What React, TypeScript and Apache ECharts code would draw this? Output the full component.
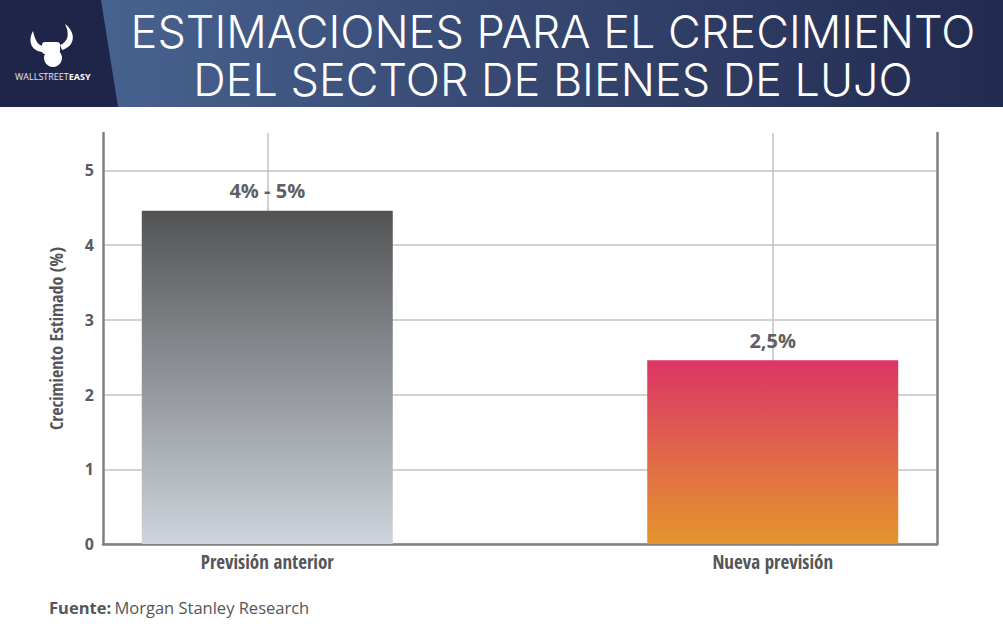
import { useEffect, useRef } from "react";
import * as echarts from "echarts";

// chart data
const categories = ["Previsión anterior", "Nueva previsión"];
const positions = [0, 1];
const values = [4.46, 2.46];
const valueLabels = ["4% - 5%", "2,5%"];
const yTicks = [0, 1, 2, 3, 4, 5];

const titleLines = ["ESTIMACIONES PARA EL CRECIMIENTO", "DEL SECTOR DE BIENES DE LUJO"];
const source = "Morgan Stanley Research";

const barGradients = [
  ["#525355", "#cdd4db"],
  ["#dc3566", "#e4962d"],
];

// rough bull logo shapes
echarts.graphic.registerShape(
  "hornL",
  echarts.graphic.extendPath(
    "M33 31 C27 42 32 52 44 52 L44 46 C38 46 35 40 33 31 Z",
    {}
  )
);
echarts.graphic.registerShape(
  "hornR",
  echarts.graphic.extendPath(
    "M65 24 C76 32 76 46 62 50 L60 45 C68 42 70 34 65 24 Z",
    {}
  )
);

// "Condensed" in the family name switches on font-stretch via the css below
const condensed = "'Open Sans Condensed', 'Open Sans', sans-serif";
const sans = "'Open Sans', 'Noto Sans', sans-serif";

export default function App() {
  const chartRef = useRef<HTMLDivElement>(null);

  useEffect(() => {
    document.body.style.margin = "0";
    const css = document.createElement("style");
    css.textContent = 'text[style*="Condensed"] { font-stretch: condensed !important; }';
    document.head.appendChild(css);
    if (!chartRef.current) return;
    const chart = echarts.init(chartRef.current, null, { renderer: "svg" });

    const option: echarts.EChartsOption = {
      animation: false,
      backgroundColor: "#ffffff",
      grid: { left: 103, right: 66, top: 133, bottom: 99 },
      xAxis: {
        type: "value",
        min: -0.325,
        max: 1.325,
        axisLine: { show: true, onZero: false, lineStyle: { color: "#7f7f7f", width: 2.5 } },
        axisTick: { show: false, customValues: positions },
        axisLabel: {
          customValues: positions,
          formatter: (v: number) => categories[Math.round(v)] ?? "",
          color: "#555659",
          fontFamily: condensed,
          fontWeight: "bold",
          fontSize: 19,
          margin: 8,
        },
        splitLine: { show: true, lineStyle: { color: "#c3c3c3", width: 1.5 } },
      },
      yAxis: [
        {
          type: "value",
          min: 0,
          max: 5.5,
          name: "Crecimiento Estimado (%)",
          nameLocation: "middle",
          nameGap: 38,
          nameTextStyle: {
            color: "#555659",
            fontFamily: condensed,
            fontWeight: "bold",
            fontSize: 18,
          },
          axisLine: { show: true, onZero: false, lineStyle: { color: "#7f7f7f", width: 2.5 } },
          axisTick: { show: false, customValues: yTicks },
          axisLabel: {
            customValues: yTicks,
            color: "#5a5b5e",
            fontFamily: sans,
            fontWeight: "bold",
            fontSize: 16,
            margin: 9,
          },
          splitLine: { show: true, lineStyle: { color: "#c3c3c3", width: 1.5 } },
        },
        {
          type: "value",
          min: 0,
          max: 5.5,
          position: "right",
          axisLine: { show: true, onZero: false, lineStyle: { color: "#7f7f7f", width: 2.5 } },
          axisTick: { show: false },
          axisLabel: { show: false },
          splitLine: { show: false },
        },
      ],
      series: [
        {
          type: "bar",
          barWidth: 251,
          data: positions.map((p, i) => ({
            value: [p, values[i]],
            itemStyle: {
              color: new echarts.graphic.LinearGradient(0, 0, 0, 1, [
                { offset: 0, color: barGradients[i][0] },
                { offset: 1, color: barGradients[i][1] },
              ]),
            },
          })),
          label: {
            show: true,
            position: "top",
            distance: 10,
            formatter: (p: any) => valueLabels[p.dataIndex],
            color: "#5f6063",
            fontFamily: sans,
            fontWeight: "bold",
            fontSize: 20,
          },
        },
      ],
      graphic: [
        {
          type: "rect",
          shape: { x: 0, y: 0, width: 1003, height: 107 },
          style: {
            fill: new echarts.graphic.LinearGradient(0, 0, 1, 0, [
              { offset: 0, color: "#4c6896" },
              { offset: 1, color: "#222a4f" },
            ]),
          },
        },
        {
          type: "polygon",
          shape: { points: [[0, 0], [101, 0], [118, 107], [0, 107]] },
          style: { fill: "#1f2548" },
        },
        { type: "hornL", x: 0, y: 0, style: { fill: "#ffffff" } },
        { type: "hornR", x: 0, y: 0, style: { fill: "#ffffff" } },
        {
          type: "rect",
          shape: { x: 42, y: 42, width: 18, height: 12, r: 3 },
          style: { fill: "#ffffff" },
        },
        { type: "circle", shape: { cx: 53, cy: 58, r: 9 }, style: { fill: "#ffffff" } },
        {
          type: "text",
          x: 15,
          y: 76,
          style: {
            text: "{a|WALLSTREET}{b|EASY}",
            verticalAlign: "middle",
            rich: {
              a: { fill: "#e6e6ea", fontFamily: sans, fontSize: 9 },
              b: { fill: "#ffffff", fontFamily: sans, fontSize: 9, fontWeight: "bold" },
            },
          },
        },
        ...titleLines.map((t, i) => ({
          type: "text" as const,
          x: 553,
          y: 31 + i * 48,
          style: {
            text: t,
            fill: "#ffffff",
            font: "300 45px Inter, 'Open Sans', sans-serif",
            lineHeight: 45,
            align: "center" as const,
            verticalAlign: "middle" as const,
          },
        })),
        {
          type: "text",
          x: 49,
          y: 607,
          style: {
            text: "{b|Fuente:} {r|" + source + "}",
            verticalAlign: "middle",
            rich: {
              b: { fill: "#555659", fontFamily: sans, fontSize: 16.5, fontWeight: "bold" },
              r: { fill: "#555659", fontFamily: sans, fontSize: 16.5 },
            },
          },
        },
      ],
    };

    chart.setOption(option);
    return () => {
      chart.dispose();
      css.remove();
    };
  }, []);

  return <div ref={chartRef} style={{ width: 1003, height: 643 }} />;
}
